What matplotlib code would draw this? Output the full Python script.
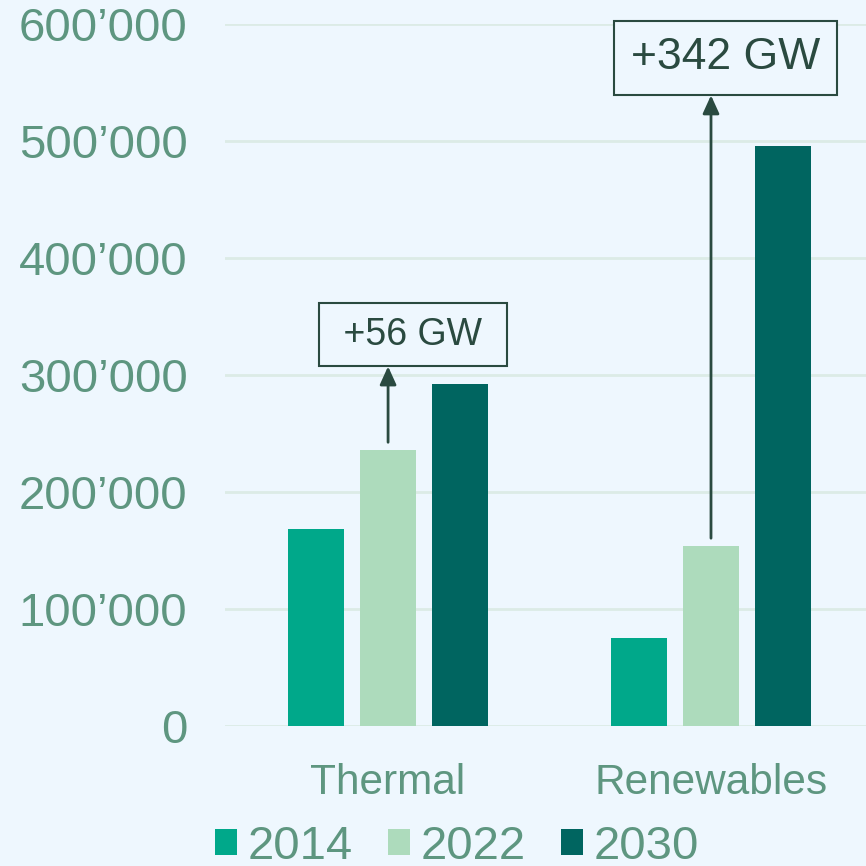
import matplotlib
matplotlib.use("Agg")
import matplotlib.pyplot as plt
import numpy as np
from matplotlib.ticker import FuncFormatter

# data
categorias = ["Thermal", "Renewables"]
anios = ["2014", "2022", "2030"]
valores_2014 = [168000, 75000]
valores_2022 = [236000, 154000]
valores_2030 = [292000, 496000]
etiquetas_delta = [" +56 GW ", "+342 GW"]

FONDO = "#EEF7FE"
TEXTO = "#5E9680"
REJILLA = "#DCEBE6"
OSCURO = "#2A4A40"
COLORES = ["#00A88A", "#ADDBBC", "#006560"]

plt.rcParams["font.family"] = ["Liberation Sans", "DejaVu Sans"]

fig = plt.figure(figsize=(8.66, 8.66), dpi=100, facecolor=FONDO)
ax = fig.add_axes([225 / 866, 1 - 726 / 866, 641 / 866, 702 / 866], facecolor=FONDO)

x = np.arange(len(categorias))
ancho = 0.173
paso = 0.223
series = [valores_2014, valores_2022, valores_2030]
for i, (serie, anio, color) in enumerate(zip(series, anios, COLORES)):
    ax.bar(x + (i - 1) * paso, serie, width=ancho, color=color, label=anio, zorder=3)

ax.set_xlim(-0.505, 1.48)
ax.set_ylim(0, 600000)
ax.set_yticks(np.arange(0, 600001, 100000))
ax.yaxis.set_major_formatter(FuncFormatter(lambda v, _: f"{int(v):,}".replace(",", "\u2019")))
ax.grid(axis="y", color=REJILLA, linewidth=2, zorder=0)
ax.set_axisbelow(True)
for s in ax.spines.values():
    s.set_visible(False)
ax.tick_params(axis="y", length=0, pad=27, labelsize=34, labelcolor=TEXTO)
ax.tick_params(axis="x", length=0, pad=27, labelsize=30.5, labelcolor=TEXTO)
ax.set_xticks(x)
ax.set_xticklabels(categorias)

# flechas y cajas de diferencia: (x, y, tamaño, pad)
cajas = [(0.077, 334600, 27, 0.37), (1.046, 571000, 32, 0.38)]
for j, (tx, ty, fs, pad) in enumerate(cajas):
    xb = x[j]
    y0 = valores_2022[j] + 6500
    t = ax.text(tx, ty, etiquetas_delta[j], ha="center", va="center",
                fontsize=fs, color=OSCURO, zorder=5,
                bbox=dict(boxstyle=f"square,pad={pad}", fc=FONDO, ec=OSCURO, lw=1.5))
    fig.canvas.draw()
    bb = t.get_bbox_patch().get_window_extent()
    yb = ax.transData.inverted().transform((0, bb.y0))[1]
    ax.annotate("", xy=(xb, yb), xytext=(xb, y0),
                arrowprops=dict(arrowstyle="-|>,head_width=0.5,head_length=1.1",
                                color=OSCURO, lw=2, shrinkA=0, shrinkB=0), zorder=4)

fig.legend(loc="center", bbox_to_anchor=(0.528, 1 - 847 / 866), ncol=3, frameon=False,
           fontsize=34, labelcolor=TEXTO, handlelength=0.46, handleheight=0.46,
           handletextpad=0.23, columnspacing=0.75, borderaxespad=0)

fig.savefig("out.png", dpi=100, facecolor=FONDO)
